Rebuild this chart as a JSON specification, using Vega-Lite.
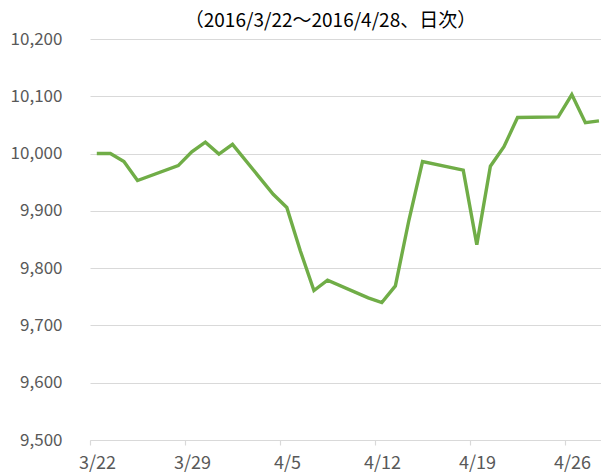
{
  "$schema": "https://vega.github.io/schema/vega-lite/v6.json",
  "width": 511,
  "height": 401,
  "autosize": {"type": "none"},
  "padding": {"left": 90, "top": 39, "right": 0, "bottom": 32},
  "background": "white",
  "config": {"view": {"stroke": null}},
  "title": {
    "text": "（2016/3/22～2016/4/28、日次）",
    "font": "Noto Sans CJK JP",
    "fontSize": 19,
    "fontWeight": "normal",
    "color": "#000000",
    "anchor": "middle",
    "dx": -15,
    "offset": -1
  },
  "data": {
    "values": [
      {"date": "2016-03-22T12:00:00", "value": 10000},
      {"date": "2016-03-23T12:00:00", "value": 10000},
      {"date": "2016-03-24T12:00:00", "value": 9986},
      {"date": "2016-03-25T12:00:00", "value": 9953},
      {"date": "2016-03-28T12:00:00", "value": 9979},
      {"date": "2016-03-29T12:00:00", "value": 10003},
      {"date": "2016-03-30T12:00:00", "value": 10020},
      {"date": "2016-03-31T12:00:00", "value": 9999},
      {"date": "2016-04-01T12:00:00", "value": 10016},
      {"date": "2016-04-04T12:00:00", "value": 9929},
      {"date": "2016-04-05T12:00:00", "value": 9906},
      {"date": "2016-04-06T12:00:00", "value": 9830},
      {"date": "2016-04-07T12:00:00", "value": 9761},
      {"date": "2016-04-08T12:00:00", "value": 9779},
      {"date": "2016-04-11T12:00:00", "value": 9748},
      {"date": "2016-04-12T12:00:00", "value": 9740},
      {"date": "2016-04-13T12:00:00", "value": 9769},
      {"date": "2016-04-14T12:00:00", "value": 9884},
      {"date": "2016-04-15T12:00:00", "value": 9986},
      {"date": "2016-04-18T12:00:00", "value": 9971},
      {"date": "2016-04-19T12:00:00", "value": 9841},
      {"date": "2016-04-20T12:00:00", "value": 9978},
      {"date": "2016-04-21T12:00:00", "value": 10012},
      {"date": "2016-04-22T12:00:00", "value": 10063},
      {"date": "2016-04-25T12:00:00", "value": 10064},
      {"date": "2016-04-26T12:00:00", "value": 10103},
      {"date": "2016-04-27T12:00:00", "value": 10054},
      {"date": "2016-04-28T12:00:00", "value": 10057}
    ]
  },
  "mark": {"type": "line", "color": "#70AD47", "strokeWidth": 3.4, "strokeJoin": "miter", "clip": true},
  "encoding": {
    "x": {
      "field": "date",
      "type": "temporal",
      "scale": {
        "domain": [
          {"year": 2016, "month": 3, "date": 22},
          {"year": 2016, "month": 4, "date": 28, "hours": 15, "minutes": 36}
        ],
        "nice": false
      },
      "axis": {
        "title": null,
        "values": [
          {"year": 2016, "month": 3, "date": 22},
          {"year": 2016, "month": 3, "date": 29},
          {"year": 2016, "month": 4, "date": 5},
          {"year": 2016, "month": 4, "date": 12},
          {"year": 2016, "month": 4, "date": 19},
          {"year": 2016, "month": 4, "date": 26}
        ],
        "format": "%-m/%-d",
        "grid": false,
        "labelOffset": 7,
        "labelFlush": false,
        "labelOverlap": false,
        "labelFont": "Noto Sans CJK JP",
        "labelFontSize": 18,
        "labelColor": "#595959",
        "labelPadding": 9,
        "tickSize": 5,
        "tickColor": "#d9d9d9",
        "tickWidth": 1.2,
        "domainColor": "#d9d9d9",
        "domainWidth": 1.2
      }
    },
    "y": {
      "field": "value",
      "type": "quantitative",
      "scale": {"domain": [9500, 10200], "nice": false, "zero": false},
      "axis": {
        "title": null,
        "values": [9500, 9600, 9700, 9800, 9900, 10000, 10100, 10200],
        "format": ",d",
        "ticks": false,
        "domain": false,
        "grid": true,
        "gridColor": "#d9d9d9",
        "gridWidth": 1.2,
        "labelFont": "Noto Sans CJK JP",
        "labelFontSize": 17,
        "labelColor": "#595959",
        "labelPadding": 28
      }
    }
  }
}
